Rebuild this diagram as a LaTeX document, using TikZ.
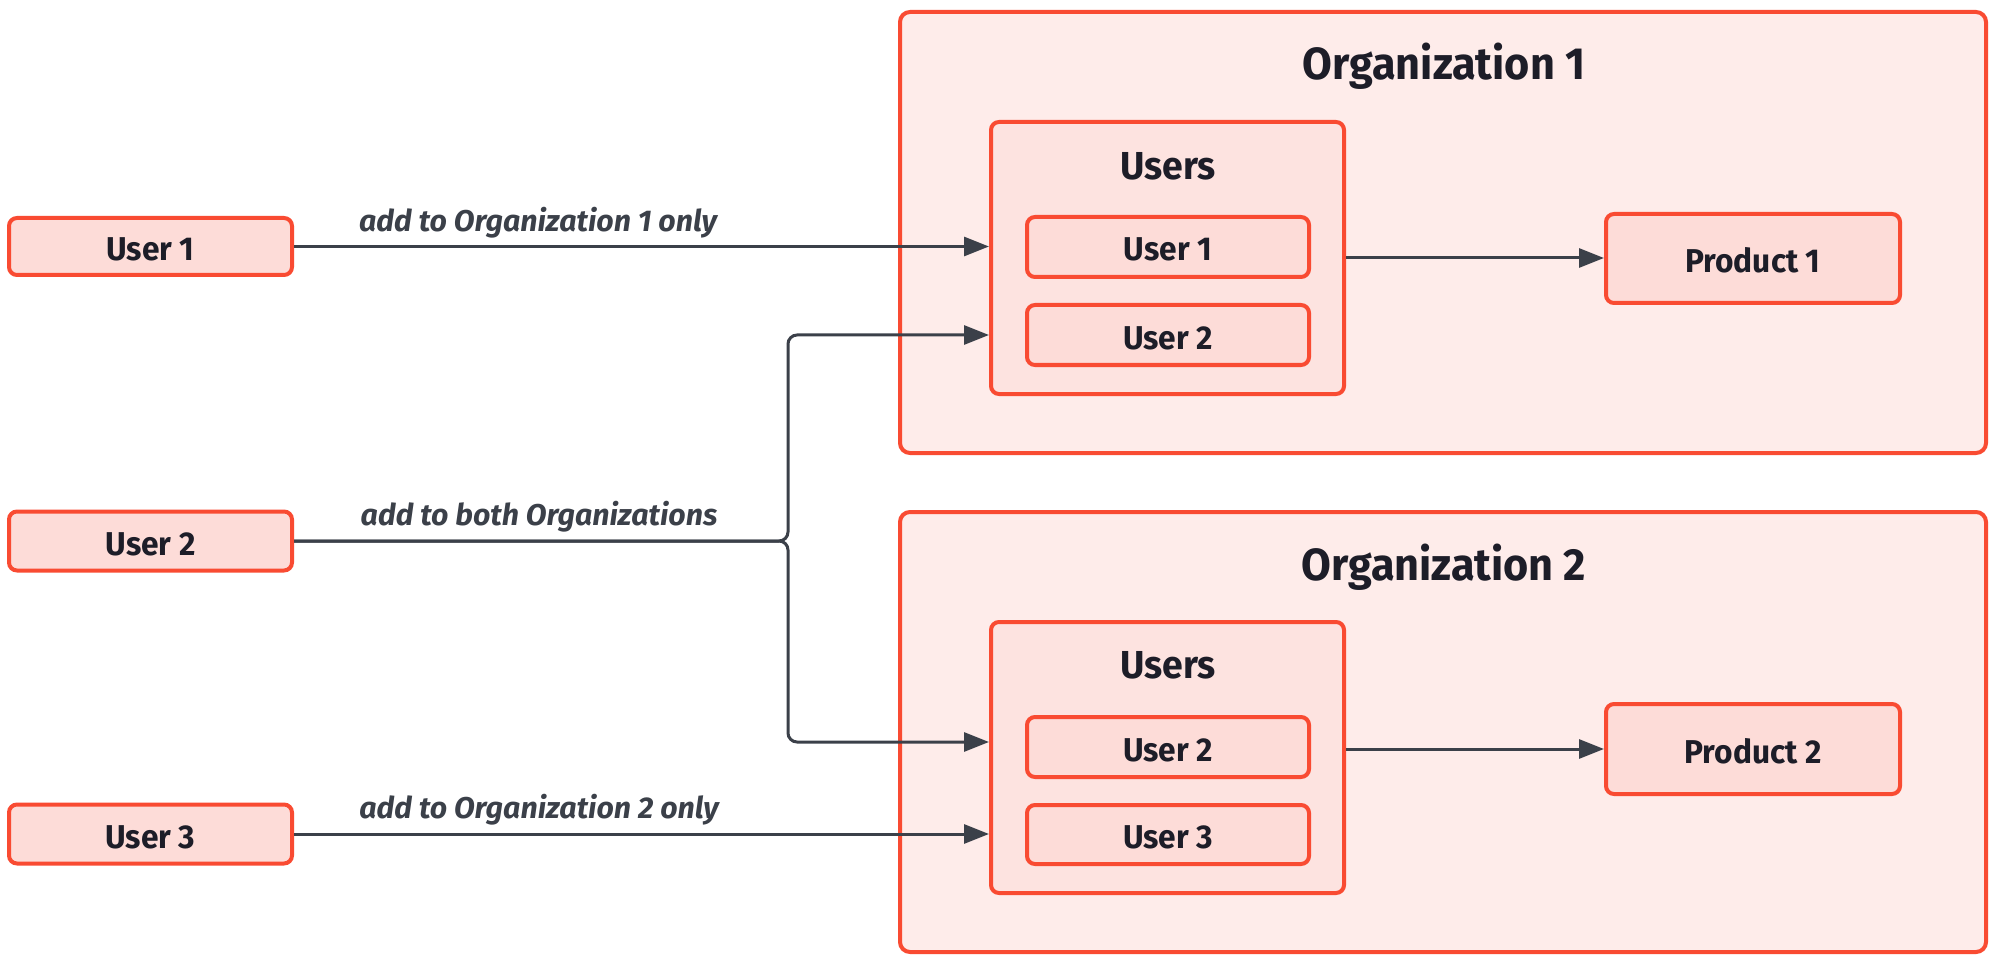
\documentclass[tikz,border=0pt]{standalone}
\usepackage{fontspec}
\setmainfont{Fira Sans}[FakeStretch=0.96]
\newfontfamily\lblfamily{Fira Sans}[FakeStretch=1.01]
\usetikzlibrary{arrows.meta}
\definecolor{bordr}{HTML}{F94B32}
\definecolor{orgfill}{HTML}{FEECEA}
\definecolor{usersfill}{HTML}{FDE3E0}
\definecolor{itemfill}{HTML}{FDDCD8}
\definecolor{txt}{HTML}{1D1D28}
\definecolor{arr}{HTML}{3B4049}
\tikzset{
  box/.style={draw=bordr, line width=4pt, rounded corners=8pt, inner sep=0pt, text=txt, text height=28pt, text depth=0pt, font=\bfseries\fontsize{33}{40}\selectfont},
  orgbox/.style={box, fill=orgfill, rounded corners=10pt},
  usersbox/.style={box, fill=usersfill},
  itembox/.style={box, fill=itemfill},
  title/.style={anchor=base, text=txt, inner sep=0pt},
  lbl/.style={anchor=base, text=arr, inner sep=0pt, font=\lblfamily\bfseries\itshape\fontsize{30}{36}\selectfont},
  conn/.style={draw=arr, line width=3pt, -{Triangle[length=25pt,width=19pt]}, rounded corners=9pt}
}
\begin{document}
\begin{tikzpicture}[x=1pt, y=-1pt]
\useasboundingbox (0,0) rectangle (1999,965);
% organizations
\node[orgbox, minimum width=1086pt, minimum height=441pt] (org1) at (1443,232.5) {};
\node[orgbox, minimum width=1086pt, minimum height=440pt] (org2) at (1443,732) {};
\node[title, font=\bfseries\fontsize{45}{54}\selectfont] (t1) at (1444,80) {Organization 1};
\node[title, font=\bfseries\fontsize{45}{54}\selectfont] (t2) at (1444,580) {Organization 2};
% users containers
\node[usersbox, minimum width=353pt, minimum height=272pt] (users1) at (1167.5,258) {};
\node[usersbox, minimum width=353pt, minimum height=271pt] (users2) at (1167.5,757.5) {};
\node[title, font=\bfseries\fontsize{39}{46}\selectfont] (ut1) at (1168,180) {Users};
\node[title, font=\bfseries\fontsize{39}{46}\selectfont] (ut2) at (1168,678) {Users};
% inner users
\node[itembox, minimum width=282pt, minimum height=60pt] (i11) at (1168,247) {User 1};
\node[itembox, minimum width=282pt, minimum height=60pt] (i12) at (1168,335) {User 2};
\node[itembox, minimum width=282pt, minimum height=60pt] (i21) at (1168,747) {User 2};
\node[itembox, minimum width=282pt, minimum height=59pt] (i22) at (1168,834.5) {User 3};
% products
\node[itembox, minimum width=294pt, minimum height=89pt] (p1) at (1753,258.5) {Product 1};
\node[itembox, minimum width=294pt, minimum height=90pt] (p2) at (1753,749) {Product 2};
% left users
\node[itembox, minimum width=283pt, minimum height=57pt] (u1) at (150.5,246.5) {User 1};
\node[itembox, minimum width=283pt, minimum height=59pt] (u2) at (150.5,541) {User 2};
\node[itembox, minimum width=283pt, minimum height=59pt] (u3) at (150.5,834) {User 3};
% connectors
\coordinate (j) at (788,541);
\draw[conn] (u1.east) -- (u1.east -| users1.west);
\draw[conn] (u2.east) -- (j) -- (j |- i12.west) -- (i12.west -| users1.west);
\draw[conn] (u2.east) -- (j) -- (788,742) -- (users2.west |- 0,742);
\draw[conn] (u3.east) -- (u3.east -| users2.west);
\draw[conn] (users1.east) -- (users1.east -| p1.west);
\draw[conn] (users2.east |- p2.west) -- (p2.west);
% labels
\node[lbl] (l1) at (538,232) {add to Organization 1 only};
\node[lbl] (l2) at (539,525) {add to both Organizations};
\node[lbl] (l3) at (539,818) {add to Organization 2 only};
\end{tikzpicture}
\end{document}
